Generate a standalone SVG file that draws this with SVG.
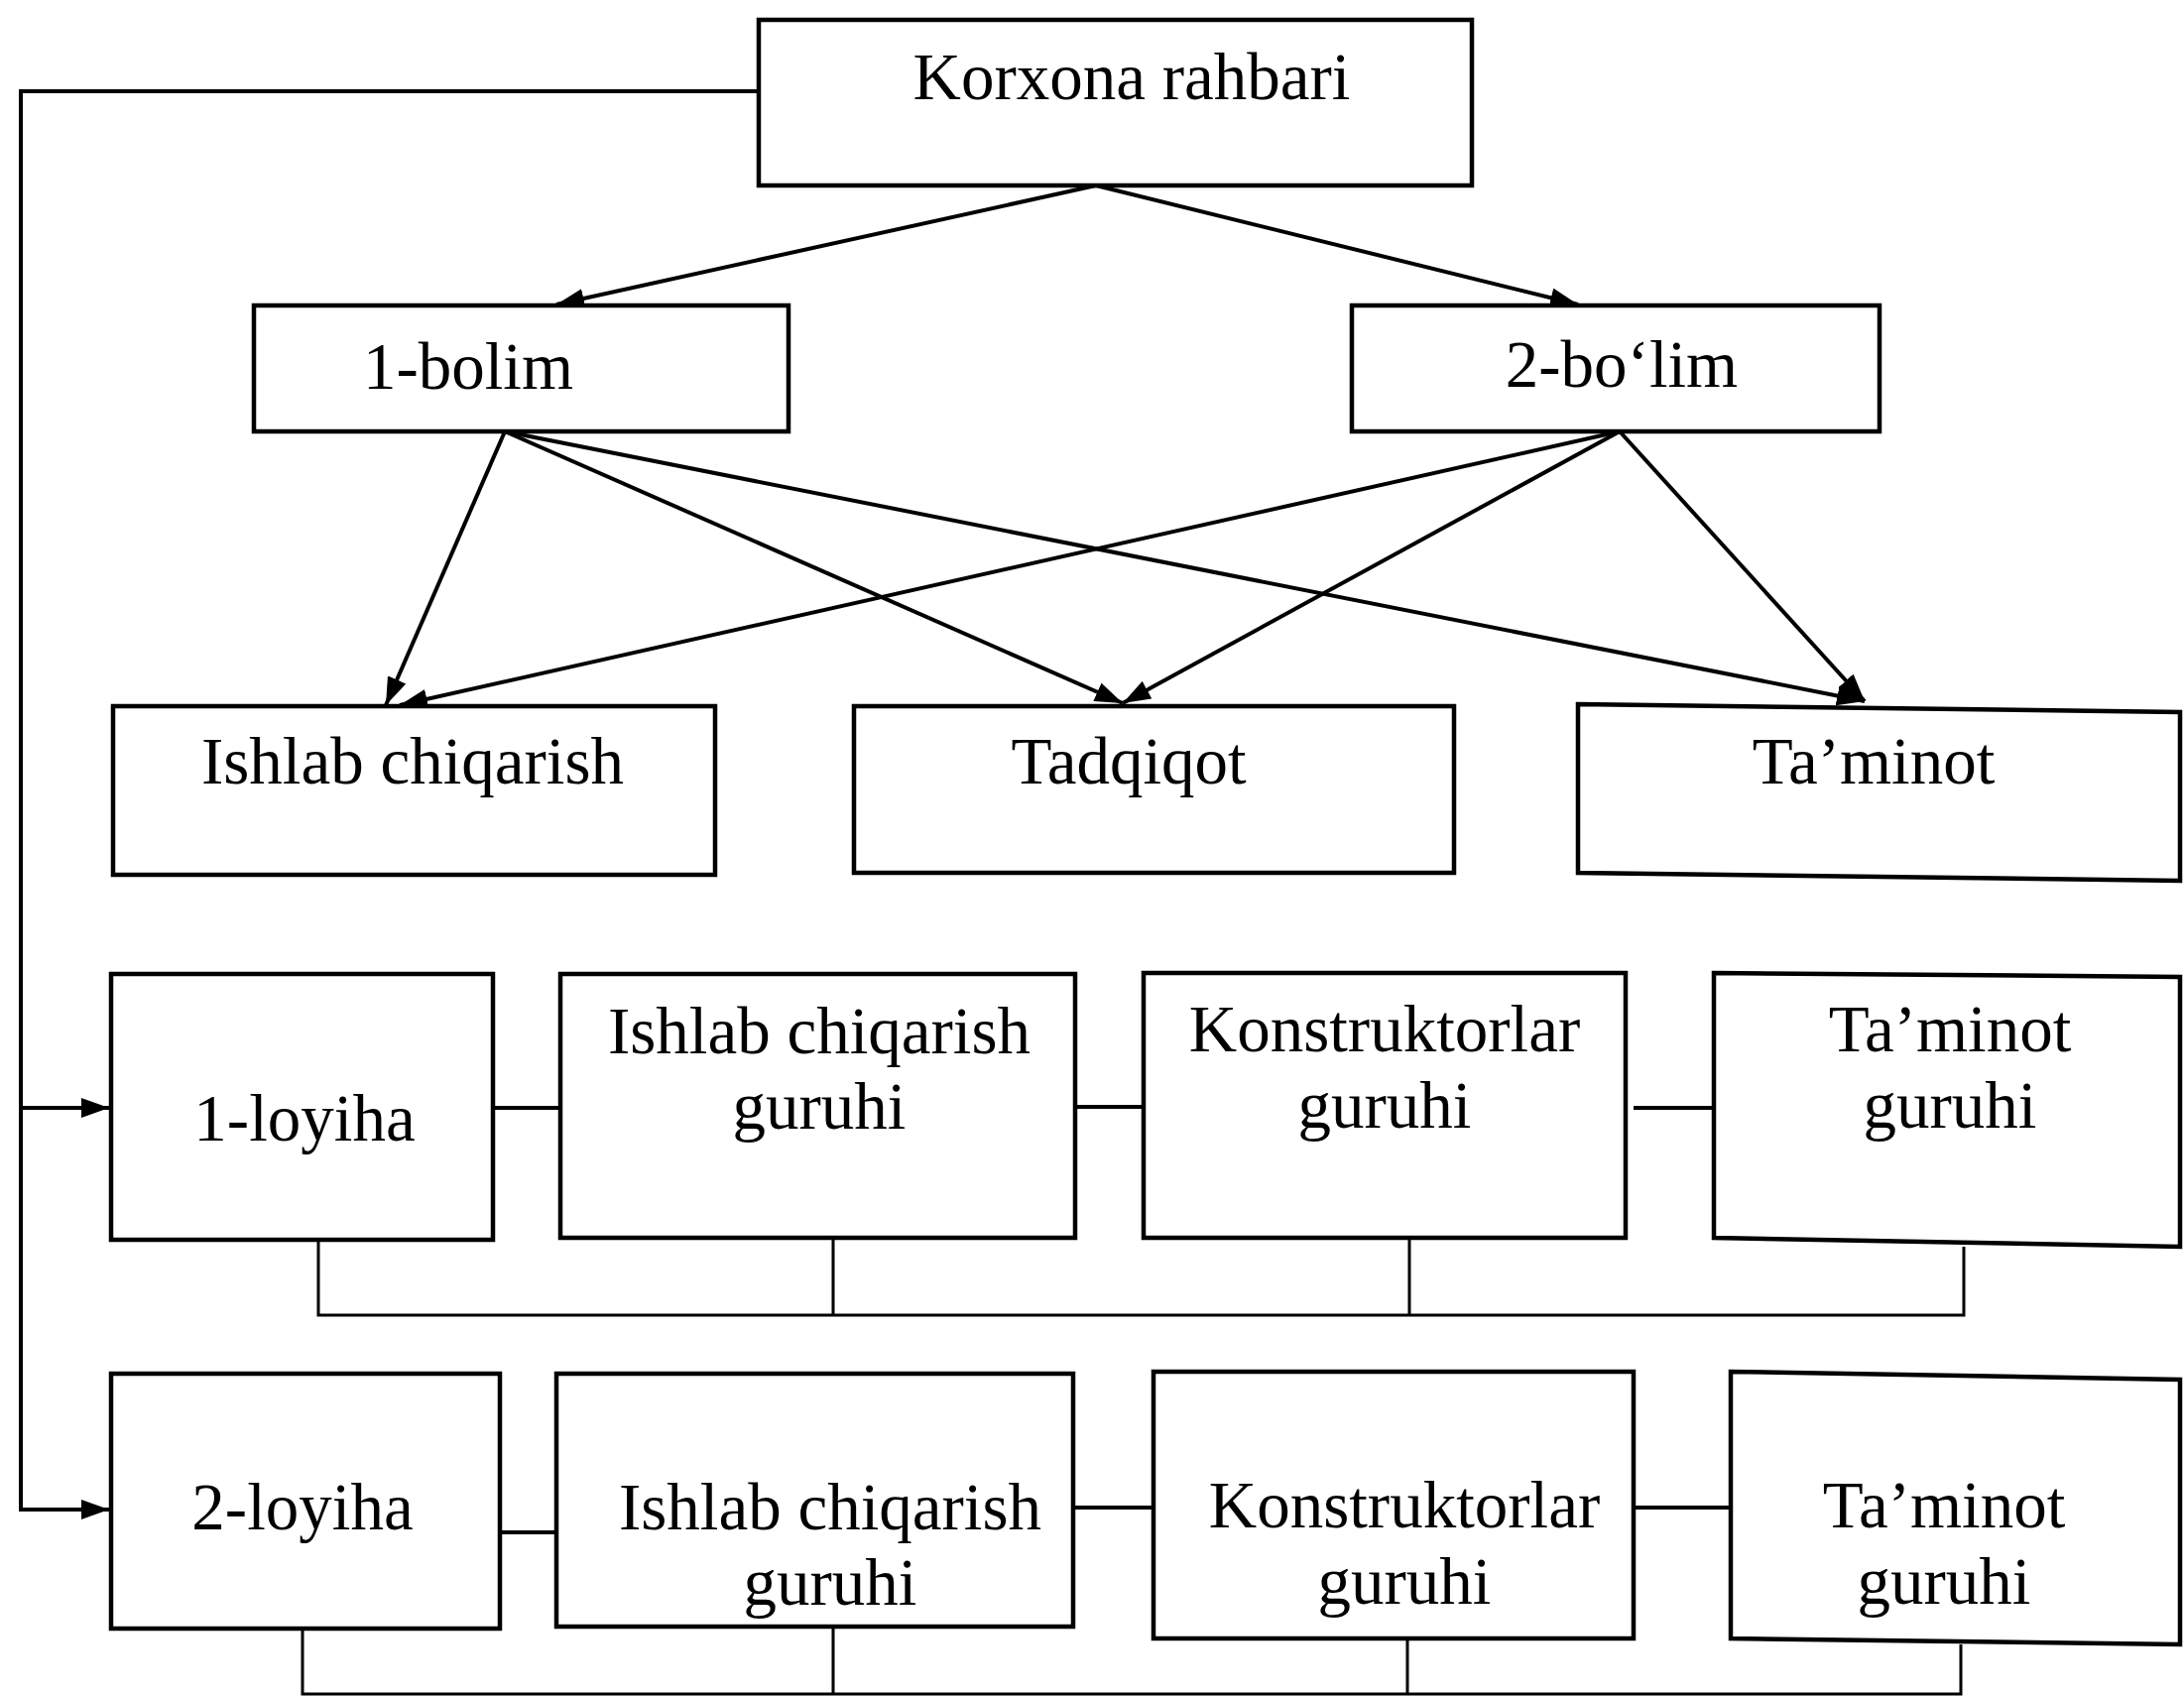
<svg xmlns="http://www.w3.org/2000/svg" width="2202" height="1710" viewBox="0 0 2202 1710">
<style>
.box{fill:#fff;stroke:#000;stroke-width:4.5;stroke-linejoin:miter}
.t{font-family:"Liberation Serif","Times New Roman",serif;font-size:67px;fill:#000;text-anchor:middle}
.c{fill:none;stroke:#000;stroke-width:4}
.b{fill:none;stroke:#000;stroke-width:3}
</style>
<defs>
<marker id="ah" viewBox="0 0 28 20" refX="28" refY="10" markerWidth="28" markerHeight="20" markerUnits="userSpaceOnUse" orient="auto">
<path d="M0,0 L28,10 L0,20 Z" fill="#000"/>
</marker>
</defs>
<rect width="2202" height="1710" fill="#fff"/>
<g id="connectors">
<path class="c" d="M765,92 H21 V1522 H110" marker-end="url(#ah)"/>
<path class="c" d="M21,1117 H110" marker-end="url(#ah)"/>
<path class="c" d="M1105,187 L561,307" marker-end="url(#ah)"/>
<path class="c" d="M1105,187 L1591,307" marker-end="url(#ah)"/>
<path class="c" d="M509,435 L389,711" marker-end="url(#ah)"/>
<path class="c" d="M509,435 L1132,709" marker-end="url(#ah)"/>
<path class="c" d="M509,435 L1880,707" marker-end="url(#ah)"/>
<path class="c" d="M1633,435 L403,711" marker-end="url(#ah)"/>
<path class="c" d="M1633,435 L1132,709" marker-end="url(#ah)"/>
<path class="c" d="M1633,435 L1880,707" marker-end="url(#ah)"/>
<path class="c" d="M497,1117 H565 M1084,1116 H1153 M1647,1117 H1728"/>
<path class="c" d="M504,1545 H561 M1082,1520 H1163 M1647,1520 H1745"/>
<path class="b" d="M321,1250 V1326 H1980 V1257 M840,1248 V1326 M1421,1248 V1326"/>
<path class="b" d="M305,1642 V1708 H1977 V1658 M840,1640 V1708 M1419,1652 V1708"/>
</g>
<g id="korxona-rahbari">
<rect class="box" x="765" y="20" width="719" height="167"/>
<text class="t" x="1141" y="100">Korxona rahbari</text>
</g>
<g id="bolim-1">
<rect class="box" x="256" y="308" width="539" height="127"/>
<text class="t" x="472" y="392">1-bolim</text>
</g>
<g id="bolim-2">
<rect class="box" x="1363" y="308" width="532" height="127"/>
<text class="t" x="1635" y="390">2-bo‘lim</text>
</g>
<g id="ishlab-chiqarish">
<rect class="box" x="114" y="712" width="607" height="170"/>
<text class="t" x="416" y="790">Ishlab chiqarish</text>
</g>
<g id="tadqiqot">
<rect class="box" x="861" y="712" width="605" height="168"/>
<text class="t" x="1138" y="790">Tadqiqot</text>
</g>
<g id="taminot">
<polygon class="box" points="1591,710 2198,718 2198,888 1591,880"/>
<text class="t" x="1889" y="790">Ta’minot</text>
</g>
<g id="loyiha-1">
<rect class="box" x="112" y="982" width="385" height="268"/>
<text class="t" x="307" y="1150">1-loyiha</text>
</g>
<g id="ishlab-guruhi-1">
<rect class="box" x="565" y="982" width="519" height="266"/>
<text class="t" x="826" y="1062">Ishlab chiqarish</text>
<text class="t" x="826" y="1138">guruhi</text>
</g>
<g id="konstruktorlar-guruhi-1">
<rect class="box" x="1153" y="981" width="486" height="267"/>
<text class="t" x="1396" y="1060">Konstruktorlar</text>
<text class="t" x="1396" y="1137">guruhi</text>
</g>
<g id="taminot-guruhi-1">
<polygon class="box" points="1728,981 2198,985 2198,1257 1728,1248"/>
<text class="t" x="1966" y="1060">Ta’minot</text>
<text class="t" x="1966" y="1137">guruhi</text>
</g>
<g id="loyiha-2">
<rect class="box" x="112" y="1385" width="392" height="257"/>
<text class="t" x="305" y="1542">2-loyiha</text>
</g>
<g id="ishlab-guruhi-2">
<rect class="box" x="561" y="1385" width="521" height="255"/>
<text class="t" x="837" y="1542">Ishlab chiqarish</text>
<text class="t" x="837" y="1618">guruhi</text>
</g>
<g id="konstruktorlar-guruhi-2">
<rect class="box" x="1163" y="1383" width="484" height="269"/>
<text class="t" x="1416" y="1540">Konstruktorlar</text>
<text class="t" x="1416" y="1617">guruhi</text>
</g>
<g id="taminot-guruhi-2">
<polygon class="box" points="1745,1383 2198,1391 2198,1658 1745,1652"/>
<text class="t" x="1960" y="1540">Ta’minot</text>
<text class="t" x="1960" y="1617">guruhi</text>
</g>
</svg>
